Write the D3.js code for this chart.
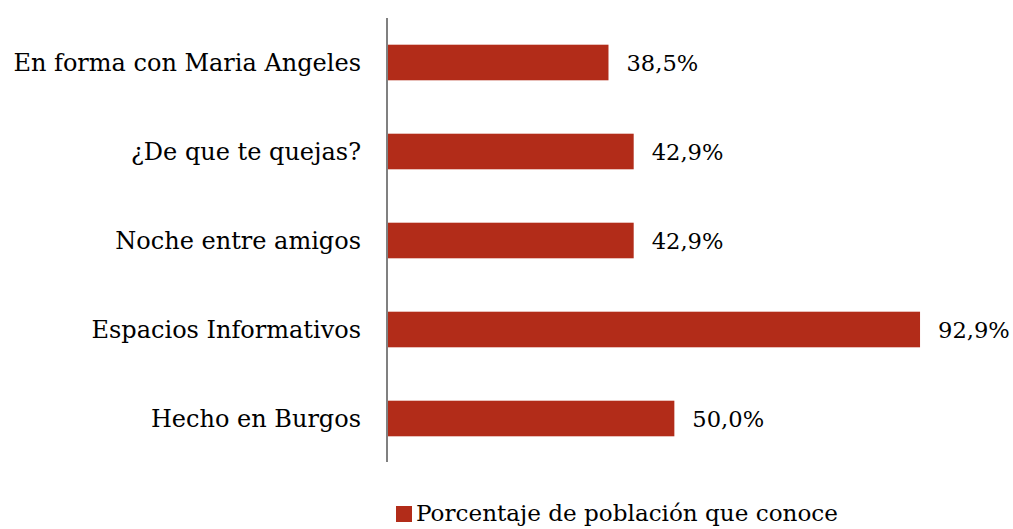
<!DOCTYPE html>
<html><head><meta charset="utf-8">
<script src="https://cdn.jsdelivr.net/npm/d3@7"></script>
<style>body{margin:0;background:#fff}svg{display:block}</style>
</head><body>
<svg id="c" width="1013" height="529"></svg>
<script>
const categories = ["En forma con Maria Angeles","¿De que te quejas?","Noche entre amigos","Espacios Informativos","Hecho en Burgos"];
const values = [38.5, 42.9, 42.9, 92.9, 50.0];
const valueLabels = ["38,5%","42,9%","42,9%","92,9%","50,0%"];
const seriesName = "Porcentaje de población que conoce";

const svg = d3.select("#c");
const color = "#B22C19";
const font = "DejaVu Serif";
const x = d3.scaleLinear().domain([0, 100]).range([388, 388 + 572.7]);
const y = d3.scaleBand().domain(categories).range([18, 463]).paddingInner(0.6).paddingOuter(0.3);

svg.selectAll("rect.bar").data(categories).enter().append("rect")
  .attr("class","bar")
  .attr("x", x(0)).attr("y", d => y(d))
  .attr("width", (d,i) => x(values[i]) - x(0))
  .attr("height", y.bandwidth())
  .attr("fill", color);

svg.append("line").attr("x1",387).attr("x2",387).attr("y1",18).attr("y2",462)
  .attr("stroke","#808080").attr("stroke-width",2);

svg.selectAll("text.cat").data(categories).enter().append("text")
  .attr("class","cat")
  .attr("x", 361).attr("y", d => y(d) + y.bandwidth()/2)
  .attr("dy","0.36em").attr("text-anchor","end")
  .attr("font-family", font).attr("font-size", 24).attr("fill","#000")
  .text(d => d);

svg.selectAll("text.val").data(categories).enter().append("text")
  .attr("class","val")
  .attr("x", (d,i) => x(values[i]) + 18).attr("y", d => y(d) + y.bandwidth()/2)
  .attr("dy","0.36em")
  .attr("font-family", font).attr("font-size", 22.6).attr("fill","#000")
  .text((d,i) => valueLabels[i]);

svg.append("rect").attr("x",396).attr("y",506).attr("width",16).attr("height",16).attr("fill",color);
svg.append("text").attr("x",416).attr("y",521)
  .attr("font-family", font).attr("font-size", 23.1).attr("fill","#000")
  .text(seriesName);
</script>
</body></html>
